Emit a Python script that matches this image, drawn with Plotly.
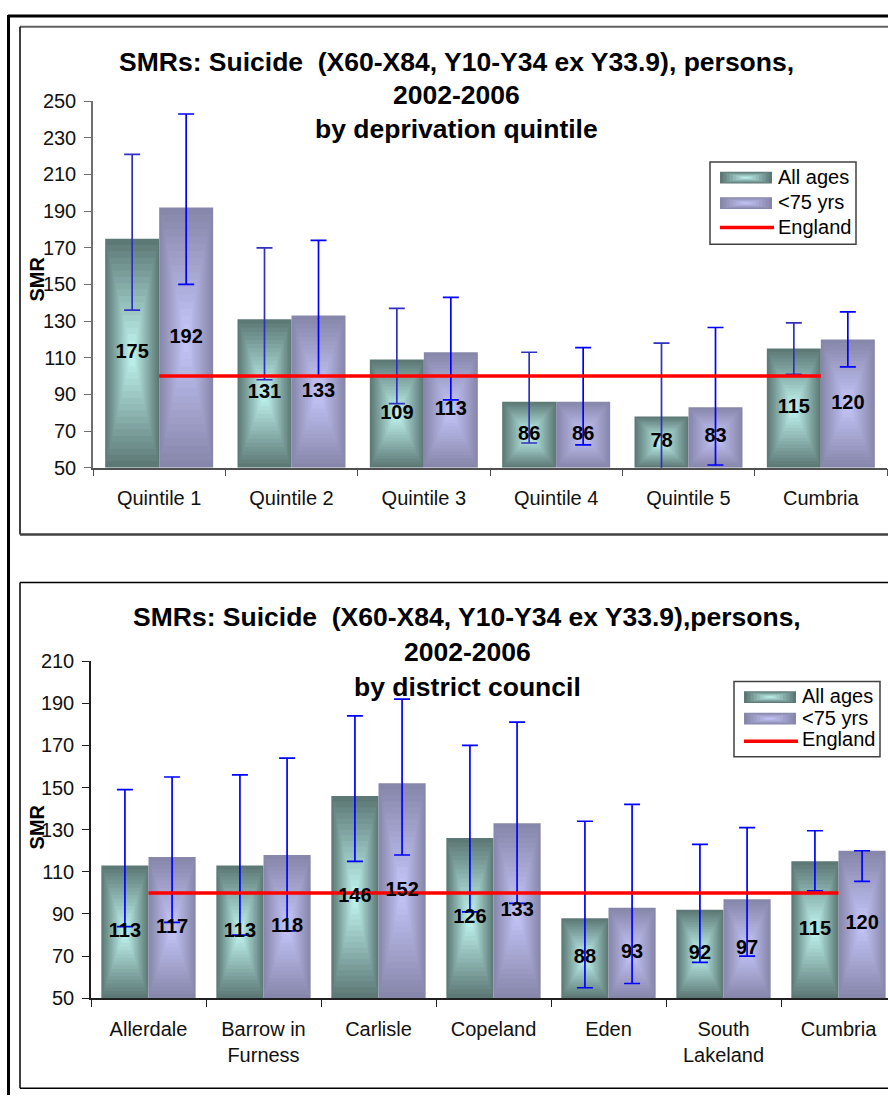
import plotly.graph_objects as go

W, H = 888, 1106

# ---------------- data: chart 1 (deprivation quintile) ----------------
quintiles = ["Quintile 1", "Quintile 2", "Quintile 3", "Quintile 4", "Quintile 5", "Cumbria"]
q_all = [175, 131, 109, 86, 78, 115]
q_all_lo = [136, 98, 85, 63.5, 45, 101]
q_all_hi = [221, 170, 137, 113, 118, 129]
q_u75 = [192, 133, 113, 86, 83, 120]
q_u75_lo = [150, 100, 87, 62.5, 51.5, 105]
q_u75_hi = [243, 174, 143, 115.5, 126.5, 135]
q_england = [100, 100, 100, 100, 100, 100]

# ---------------- data: chart 2 (district council) ----------------
districts = ["Allerdale", "Barrow in<br>Furness", "Carlisle", "Copeland", "Eden",
             "South<br>Lakeland", "Cumbria"]
d_all = [113, 113, 146, 126, 88, 92, 115]
d_all_lo = [84, 80, 115, 91, 55, 67, 101]
d_all_hi = [149, 156, 184, 170, 134, 123, 129.5]
d_u75 = [117, 118, 152, 133, 93, 97, 120]
d_u75_lo = [86, 82, 118, 95, 57, 70, 105.5]
d_u75_hi = [155, 164, 192, 181, 142, 131, 120]
d_england = [100, 100, 100, 100, 100, 100, 100]

title1 = ["SMRs: Suicide  (X60-X84, Y10-Y34 ex Y33.9), persons,", "2002-2006", "by deprivation quintile"]
title2 = ["SMRs: Suicide  (X60-X84, Y10-Y34 ex Y33.9),persons,", "2002-2006", "by district council"]
legend_names = ["All ages", "<75 yrs", "England"]

# ---------------- style ----------------
FONT = "Liberation Sans, Arial, sans-serif"
TEAL_EDGE, TEAL_MID = (93, 121, 118), (198, 251, 246)
LAV_EDGE, LAV_MID = (135, 135, 171), (200, 200, 253)
N_LAYERS = 18


def lerp(c1, c2, t):
    return "rgb(%d,%d,%d)" % tuple(round(a + (b - a) * t) for a, b in zip(c1, c2))


def px(x):
    return x / W


def py(y):
    return 1 - y / H


fig = go.Figure()


def add_chart(xa, ya, n, all_v, all_lo, all_hi, u_v, u_lo, u_hi, eng, bw, ybase, err_all_col):
    series = [
        (all_v, all_lo, all_hi, -bw / 2, TEAL_EDGE, TEAL_MID, err_all_col),
        (u_v, u_lo, u_hi, bw / 2, LAV_EDGE, LAV_MID, "#0000ff"),
    ]
    # gradient bars (rectangular "from centre" fill)
    for vals, lo, hi, off, edge, mid, ecol in series:
        xs = [i + off for i in range(n)]
        for k in range(N_LAYERS):
            t = k / N_LAYERS
            fig.add_trace(go.Bar(
                x=xs,
                y=[(v - ybase) * (1 - t) for v in vals],
                base=[ybase + (v - ybase) * t / 2 for v in vals],
                width=bw * (1 - t),
                marker=dict(color=lerp(edge, mid, t), line=dict(width=0)),
                xaxis=xa, yaxis=ya, showlegend=False, hoverinfo="skip",
            ))
    # error bars
    for vals, lo, hi, off, edge, mid, ecol in series:
        fig.add_trace(go.Scatter(
            x=[i + off for i in range(n)], y=vals, mode="markers",
            marker=dict(size=1, opacity=0),
            error_y=dict(type="data", symmetric=False,
                         array=[h - v for h, v in zip(hi, vals)],
                         arrayminus=[v - l for v, l in zip(vals, lo)],
                         color=ecol, thickness=1.7, width=8),
            xaxis=xa, yaxis=ya, showlegend=False, hoverinfo="skip",
        ))
    # England reference line
    fig.add_trace(go.Scatter(
        x=list(range(n)), y=eng, mode="lines",
        line=dict(color="#ff0000", width=3.5),
        xaxis=xa, yaxis=ya, showlegend=False, hoverinfo="skip",
    ))
    # data labels
    for vals, lo, hi, off, edge, mid, ecol in series:
        fig.add_trace(go.Scatter(
            x=[i + off for i in range(n)], y=[(ybase + v) / 2 for v in vals],
            mode="text", text=[str(v) for v in vals],
            textfont=dict(family=FONT, size=20, color="#000000", weight="bold"),
            xaxis=xa, yaxis=ya, showlegend=False, hoverinfo="skip",
        ))


add_chart("x", "y", len(quintiles), q_all, q_all_lo, q_all_hi, q_u75, q_u75_lo, q_u75_hi,
          q_england, 0.408, 50, "#3030c0")
add_chart("x2", "y2", len(districts), d_all, d_all_lo, d_all_hi, d_u75, d_u75_lo, d_u75_hi,
          d_england, 0.41, 50, "#0000ff")

tickfont = dict(family=FONT, size=20, color="#111111")


def xaxis(domain, rng, cats, lc, anchor):
    n = len(cats)
    return dict(domain=domain, range=rng, anchor=anchor, tickmode="array",
                tickvals=list(range(n)),
                ticktext=cats, ticks="", showline=True, linecolor=lc, linewidth=1.5,
                showgrid=False, zeroline=False, tickfont=tickfont, ticklabelstandoff=12,
                minor=dict(tickmode="array", tickvals=[i - 0.5 for i in range(n + 1)],
                           ticks="outside", ticklen=7, tickcolor=lc, tickwidth=1.2),
                fixedrange=True)


def yaxis(domain, rng, lc, anchor):
    return dict(domain=domain, range=rng, anchor=anchor, tick0=50, dtick=20,
                ticks="outside", ticklen=7,
                tickcolor=lc, tickwidth=1.2, showline=True, linecolor=lc, linewidth=1.5,
                showgrid=False, zeroline=False, tickfont=tickfont, ticklabelstandoff=4,
                fixedrange=True)


fig.update_layout(
    width=W, height=H, margin=dict(l=0, r=0, t=0, b=0),
    paper_bgcolor="white", plot_bgcolor="rgba(0,0,0,0)",
    barmode="overlay", showlegend=False,
    xaxis=xaxis([px(93), px(887)], [-0.5, 5.5], quintiles, "#505050", "y"),
    yaxis=yaxis([py(466), py(92)], [50, 250], "#707070", "x"),
    xaxis2=xaxis([px(91), 1.0], [-0.5, -0.5 + 797 / 115], districts, "#202020", "y2"),
    yaxis2=yaxis([py(1007.3), py(663.3)], [50, 210], "#202020", "x2"),
)

shapes = []
annotations = []


def line(x0, y0, x1, y1, color, width):
    shapes.append(dict(type="line", xref="paper", yref="paper", x0=px(x0), y0=py(y0),
                       x1=px(x1), y1=py(y1), line=dict(color=color, width=width)))


def rect(x0, y0, x1, y1, fill, lcolor=None, lwidth=0):
    shapes.append(dict(type="rect", xref="paper", yref="paper", x0=px(x0), y0=py(y0),
                       x1=px(x1), y1=py(y1), fillcolor=fill,
                       line=dict(color=lcolor or fill, width=lwidth)))


def text(x, y, s, size, bold=False, xanchor="center", angle=0):
    annotations.append(dict(xref="paper", yref="paper", x=px(x), y=py(y), text=s,
                            showarrow=False, xanchor=xanchor, yanchor="middle",
                            textangle=angle,
                            font=dict(family=FONT, size=size, color="#000000",
                                      weight="bold" if bold else "normal")))


# outer page frame
line(8.5, 4, 8.5, 1106, "#000000", 3)
line(8, 5, 888, 5, "#000000", 3)
# chart 1 box
line(20, 16, 888, 16, "#606060", 2)
line(20, 16, 20, 534, "#000000", 1.5)
line(20, 534, 888, 534, "#404040", 2.5)
# chart 2 box
line(20, 583, 888, 583, "#000000", 1.5)
line(20, 583, 20, 1099, "#000000", 1.5)
line(20, 1099, 888, 1099, "#000000", 1.5)

# titles
for s, yy in zip(title1, [52, 86, 120]):
    text(456, yy, s, 26.5, bold=True)
for s, yy in zip(title2, [618, 654, 690]):
    text(467, yy, s, 26.5, bold=True)

# axis titles
text(37, 274, "SMR", 20, bold=True, angle=-90)
text(37, 833, "SMR", 20, bold=True, angle=-90)


def legend(bx0, by0, bx1, by1, sx0, sx1, sw_y, line_y, tx, ty):
    rect(bx0, by0, bx1, by1, "white", "#404040", 1.5)
    for (yc, edge, mid) in [(sw_y[0], TEAL_EDGE, TEAL_MID), (sw_y[1], LAV_EDGE, LAV_MID)]:
        w, h = sx1 - sx0, 12
        cx = (sx0 + sx1) / 2
        for k in range(8):
            t = k / 8
            rect(cx - w * (1 - t) / 2, yc - h * (1 - t) / 2, cx + w * (1 - t) / 2,
                 yc + h * (1 - t) / 2, lerp(edge, mid, t))
    line(sx0, line_y, sx1 + 2, line_y, "#ff0000", 3.5)
    for s, yy in zip(legend_names, ty):
        text(tx, yy, s.replace("<", "&lt;"), 20, xanchor="left")


legend(710, 154, 856, 238, 720, 772, [170, 196], 221, 776, [169, 195, 220])
legend(734, 684, 880, 761, 744, 796, [700, 722], 745, 800, [699, 721, 743])

fig.update_layout(shapes=shapes, annotations=annotations)
fig.write_html(
    "out.html",
    config={"displayModeBar": False},
    post_script=(
        "document.documentElement.style.margin='0px';document.body.style.margin='0px';"
        "document.documentElement.style.overflow='hidden';document.body.style.overflow='hidden';"
    ),
)
